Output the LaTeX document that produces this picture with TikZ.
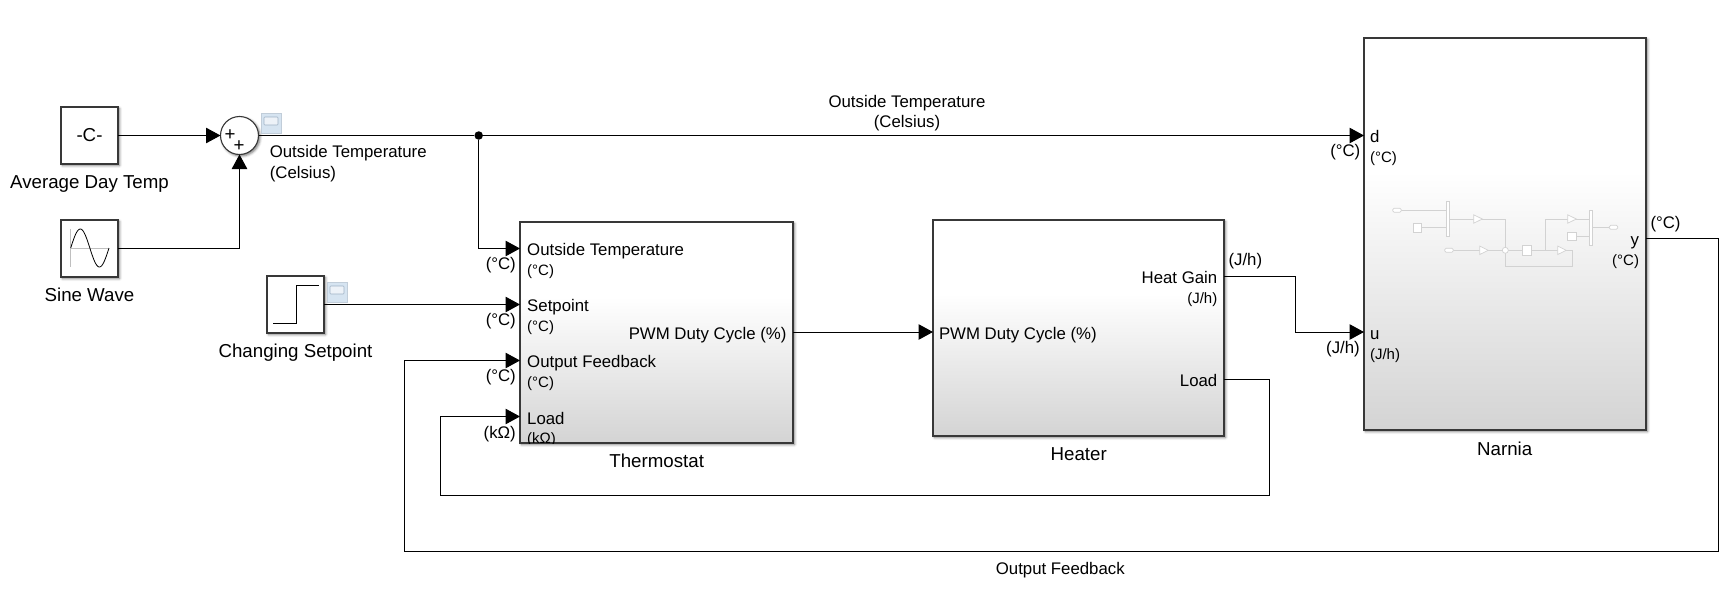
\documentclass[tikz,border=0pt]{standalone}
\usepackage{fontspec}
\setmainfont{Liberation Sans}
\usetikzlibrary{arrows.meta, shadows.blur}

\definecolor{scopeback}{HTML}{D6E4F1}
\definecolor{scopeglass}{HTML}{EDF2F8}
\definecolor{scopeedge}{HTML}{A0B3C6}
\definecolor{miniline}{HTML}{D2D2D2}
\pgfdeclareverticalshading{blockshade}{100bp}{color(0bp)=(black!17); color(25bp)=(black!17); color(58bp)=(white); color(100bp)=(white)}

\newcommand{\minigain}[1]{\draw[mini, fill=white] (#1) ++(0,-4.2) -- ++(8.6,4.2) -- ++(-8.6,4.2) -- cycle;}

\tikzset{
    boxed/.style = {draw = black!78, line width = 1.1pt, inner sep = 0pt, outer sep = 0pt,
        blur shadow = {shadow xshift = 1.5pt, shadow yshift = -1.5pt, shadow blur radius = 2.5pt, shadow opacity = 55}},
    block/.style = {boxed, shading = blockshade},
    source/.style = {boxed, fill = white, minimum width = 57pt, minimum height = 57pt},
    blockname/.style = {font = \fontsize{18.7}{20}\selectfont, anchor = base, inner sep = 0pt},
    portname/.style = {font = \fontsize{16.8}{18}\selectfont, inner sep = 0pt},
    unitname/.style = {font = \fontsize{15}{16}\selectfont, inner sep = 0pt},
    scopeicon/.style = {fill = scopeback, draw = scopeback!90!black, line width = 0.4pt, inner sep = 0pt,
        minimum width = 20pt, minimum height = 20pt},
    scopeglass/.style = {fill = scopeglass, draw = scopeedge, line width = 0.6pt, rounded corners = 0.8pt},
    mini/.style = {draw = miniline, line width = 0.7pt}
}

\begin{document}
\begin{tikzpicture}[x = 1pt, y = -1pt, > = {Triangle[length = 14.5pt, width = 15.5pt]}, % arrow head style
                line width = 1pt % line style
            ]
            \useasboundingbox (0,0) rectangle (1729,589);

            % sources
            \node[source] (avgTemp) at (89.5,135.5) {\raisebox{1.5pt}{\fontsize{18.7}{20}\selectfont -C-}};
            \node[source] (sineWave) at (89.5,248.5) {};
            \node[source] (setStep) at (295.5,304.5) {};
            \node[boxed, fill = white, circle, minimum size = 38pt] (sum) at (239.5,135.5) {};
            \node[fill = black, circle, inner sep = 0pt, minimum size = 8.5pt] (branch) at (478.7,135.5) {};

            \node[blockname] (avgTempName) at (89.5,188.3) {Average Day Temp};
            \node[blockname] (sineWaveName) at (89.5,301) {Sine Wave};
            \node[blockname] (setStepName) at (295.5,357) {Changing Setpoint};
            \node[blockname] (plusA) at (230,140.8) {+};
            \node[blockname] (plusB) at (239.2,151) {+};

            % sine and step icons
            \draw[black!25] (70.7,229) -- (70.7,266.7) (70.7,248) -- (109,248);
            \draw[line width = 0.8pt] plot[domain = 0:360, samples = 49] ({70.7 + \x/360*38.3},{248 - 19*sin(\x)});
            \draw[line width = 0.8pt] (273,323.3) -- (296.3,323.3) -- (296.3,285.3) -- (319,285.3);

            % scope icons
            \node[scopeicon] (scopeA) at (271,123) {};
            \node[scopeicon] (scopeB) at (337,292) {};
            \draw[scopeglass] (264,117) rectangle (278,125);
            \draw[scopeglass] (330,286) rectangle (344,294);

            % main blocks
            \node[block, minimum width = 273pt, minimum height = 221pt] (thermostat) at (656.5,332.5) {};
            \node[block, minimum width = 291pt, minimum height = 216pt] (heater) at (1078.5,328) {};
            \node[block, minimum width = 282pt, minimum height = 392pt] (narnia) at (1505,234) {};

            \node[blockname] (thermostatName) at (656.7,467) {Thermostat};
            \node[blockname] (heaterName) at (1078.7,460) {Heater};
            \node[blockname] (narniaName) at (1504.7,455) {Narnia};

            % thermostat ports
            \coordinate (thOut) at (793,332);
            \coordinate (thInA) at (520,248.5); \coordinate (thInB) at (520,304.5);
            \coordinate (thInC) at (520,360.5); \coordinate (thInD) at (520,416.5);

            \node[portname, anchor = base west] (thPortA) at (526.7,255) {Outside Temperature};
            \node[unitname, anchor = base west] (thUnitA) at (526.7,275.7) {(°C)};
            \node[portname, anchor = base west] (thPortB) at (526.7,311) {Setpoint};
            \node[unitname, anchor = base west] (thUnitB) at (526.7,331.5) {(°C)};
            \node[portname, anchor = base west] (thPortC) at (526.7,367) {Output Feedback};
            \node[unitname, anchor = base west] (thUnitC) at (526.7,387.5) {(°C)};
            \node[portname, anchor = base west] (thPortD) at (526.7,424.5) {Load};
            \begin{scope}
                \clip (520,420) rectangle (600,443);
                \node[unitname, anchor = base west] (thUnitD) at (526.7,443.5) {(kΩ)};
            \end{scope}
            \node[portname, anchor = base east] (thPortOut) at (787,339) {PWM Duty Cycle (\%)};

            \node[portname, anchor = base east] (thWireA) at (516.3,269.3) {(°C)};
            \node[portname, anchor = base east] (thWireB) at (516.3,325.5) {(°C)};
            \node[portname, anchor = base east] (thWireC) at (516.3,381.5) {(°C)};
            \node[portname, anchor = base east] (thWireD) at (516.3,438) {(kΩ)};

            % heater ports
            \coordinate (heIn) at (933,332);
            \coordinate (heOutA) at (1224,276); \coordinate (heOutB) at (1224,379);

            \node[portname, anchor = base west] (hePortIn) at (938.5,339.3) {PWM Duty Cycle (\%)};
            \node[portname, anchor = base east] (hePortA) at (1217.8,283.3) {Heat Gain};
            \node[unitname, anchor = base east] (heUnitA) at (1217.8,303) {(J/h)};
            \node[portname, anchor = base east] (hePortB) at (1217.8,386) {Load};
            \node[portname, anchor = base west] (heWireA) at (1228,265.7) {(J/h)};

            % narnia ports
            \coordinate (naInA) at (1364,135.5); \coordinate (naInB) at (1364,332);
            \coordinate (naOut) at (1646,238);

            \node[portname, anchor = base west] (naPortA) at (1369.5,142) {d};
            \node[unitname, anchor = base west] (naUnitA) at (1369.5,162.7) {(°C)};
            \node[portname, anchor = base west] (naPortB) at (1369.5,339) {u};
            \node[unitname, anchor = base west] (naUnitB) at (1369.5,359) {(J/h)};
            \node[portname, anchor = base east] (naPortOut) at (1639.5,245.7) {y};
            \node[unitname, anchor = base east] (naUnitOut) at (1639.5,265.7) {(°C)};
            \node[portname, anchor = base east] (naWireA) at (1360.8,156) {(°C)};
            \node[portname, anchor = base east] (naWireB) at (1360.3,353.3) {(J/h)};
            \node[portname, anchor = base west] (naWireOut) at (1650,228.3) {(°C)};

            % narnia inner sketch
            \draw[mini] (1401,210.3) -- (1447,210.3) (1421.7,227.5) -- (1447,227.5);
            \draw[mini] (1449,219) -- (1474,219) (1482,219) -- (1505.3,219) -- (1505.3,266.3) -- (1572.7,266.3) -- (1572.7,250.3) -- (1565.7,250.3);
            \draw[mini] (1453,250.3) -- (1480,250.3) (1488,250.3) -- (1522,250.3) (1531.7,250.3) -- (1558,250.3);
            \draw[mini] (1545,250.3) -- (1545,219) -- (1567.7,219) (1576,219) -- (1590,219) (1576.3,236) -- (1590,236) (1592,227.3) -- (1609.5,227.3);
            \draw[mini, fill = white, rounded corners = 1.4pt] (1392.7,208.3) rectangle (1401.3,212.3);
            \draw[mini, fill = white, rounded corners = 1.4pt] (1444.7,248.3) rectangle (1453.3,252.3);
            \draw[mini, fill = white, rounded corners = 1.4pt] (1609.3,225.3) rectangle (1617.7,229.3);
            \draw[mini, fill = white] (1446.3,201.7) rectangle (1449.3,236.7);
            \draw[mini, fill = white] (1589.3,210.3) rectangle (1592.3,245);
            \draw[mini, fill = white] (1413.3,223.3) rectangle (1421.7,232);
            \draw[mini, fill = white] (1522.3,245.7) rectangle (1531.7,255.3);
            \draw[mini, fill = white] (1567.7,232) rectangle (1576.3,240.3);
            \draw[mini, fill = white] (1505.3,250.3) circle (3pt);
            \minigain{1473.7,219} \minigain{1479.7,250.3} \minigain{1557.7,250.3} \minigain{1567.7,219}

            % wires
            \path[->] (avgTemp) edge (sum);
            \draw[->] (sineWave.east) -| (sum);
            \draw (sum) -- (branch);
            \draw[->] (branch) -- (naInA);
            \draw[->] (branch) |- (thInA);
            \draw[->] (setStep.east) -- (thInB);
            \draw[->] (thOut) -- (heIn);
            \draw[->] (heOutA) -- (1295,276) |- (naInB);
            \draw[->] (heOutB) -- (1269,379) -- (1269,495) -- (440,495) |- (thInD);
            \draw[->] (naOut) -- (1718,238) -- (1718,551) -- (404,551) |- (thInC);

            % wire labels
            \node[portname, anchor = base] (outTempTopA) at (907,107) {Outside Temperature};
            \node[portname, anchor = base] (outTempTopB) at (907,127.5) {(Celsius)};
            \node[portname, anchor = base west] (outTempA) at (269.3,157.3) {Outside Temperature};
            \node[portname, anchor = base west] (outTempB) at (269.3,178.3) {(Celsius)};
            \node[portname, anchor = base] (feedbackName) at (1060.3,574) {Output Feedback};
\end{tikzpicture}
\end{document}
